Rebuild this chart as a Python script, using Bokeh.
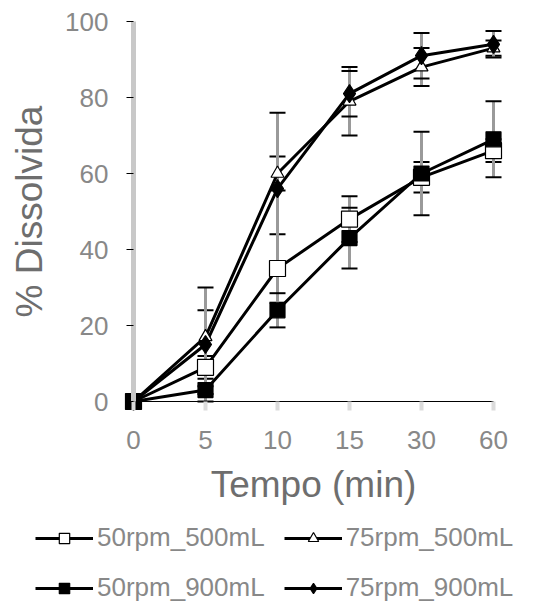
from bokeh.plotting import figure
from bokeh.models import (LinearAxis, FixedTicker, Range1d, ColumnDataSource,
                          Whisker, TeeHead, Legend, LegendItem)
from bokeh.embed import file_html
from bokeh.resources import INLINE

# ---------------- data ----------------
time_labels = ["0", "5", "10", "15", "30", "60"]
y_ticks = [0, 20, 40, 60, 80, 100]

names = ["50rpm_500mL", "75rpm_500mL", "50rpm_900mL", "75rpm_900mL"]

mean_50_500 = [0, 9, 35, 48, 59, 66]
err_50_500 = [0, 3, 9, 6, 4, 3]

mean_75_500 = [0, 17, 60, 79, 88, 93]
err_75_500 = [0, 7, 4.5, 9, 5, 2]

mean_50_900 = [0, 3, 24, 43, 60, 69]
err_50_900 = [0, 1, 4.5, 8, 11, 10]

mean_75_900 = [0, 15, 56, 81, 91, 94]
err_75_900 = [0, 15, 20, 6, 6, 3.5]

means = [mean_50_500, mean_75_500, mean_50_900, mean_75_900]
errs = [err_50_500, err_75_500, err_50_900, err_75_900]

markers = ["square", "triangle", "square", "diamond"]
fills = ["white", "white", "black", "black"]
sizes = [16, 13, 15, 18]

xpos = list(range(len(time_labels)))

FONT = "Liberation Sans"
TICK_COLOR = "#888888"
TITLE_COLOR = "#6e6e6e"

W, H = 540, 606
PX_X = 72.0   # pixels per category step
PX_Y = 3.8    # pixels per percent
X0, Y0 = 133.0, 401.0  # pixel position of the origin

p = figure(width=W, height=H, output_backend="svg", toolbar_location=None,
           x_axis_type=None, y_axis_type=None,
           x_range=Range1d(-X0 / PX_X, (W - X0) / PX_X),
           y_range=Range1d(-(H - Y0) / PX_Y, Y0 / PX_Y),
           min_border=0)
p.outline_line_color = None
p.xgrid.visible = False
p.ygrid.visible = False
p.background_fill_color = "white"
p.border_fill_color = "white"

# y axis
yaxis = LinearAxis(fixed_location=0, bounds=(y_ticks[0], y_ticks[-1]),
                   ticker=FixedTicker(ticks=y_ticks))
yaxis.axis_line_color = "#c8c8c8"
yaxis.axis_line_width = 5
yaxis.major_tick_line_color = "black"
yaxis.major_tick_line_width = 1
yaxis.major_tick_out = 7
yaxis.major_tick_in = 0
yaxis.minor_tick_line_color = None
yaxis.major_label_standoff = 18
yaxis.major_label_text_font = FONT
yaxis.major_label_text_font_size = "26px"
yaxis.major_label_text_color = TICK_COLOR
yaxis.axis_label = "% Dissolvida"
yaxis.axis_label_text_font = FONT
yaxis.axis_label_text_font_size = "37px"
yaxis.axis_label_text_font_style = "normal"
yaxis.axis_label_text_color = TITLE_COLOR
yaxis.axis_label_standoff = 12
p.add_layout(yaxis, "left")

# x axis
xaxis = LinearAxis(fixed_location=0, bounds=(xpos[0], xpos[-1]),
                   ticker=FixedTicker(ticks=xpos))
xaxis.major_label_overrides = {i: lab for i, lab in zip(xpos, time_labels)}
xaxis.axis_line_color = "black"
xaxis.axis_line_width = 1
xaxis.major_tick_line_color = "#dcdcdc"
xaxis.major_tick_line_width = 4
xaxis.major_tick_out = 9
xaxis.major_tick_in = 0
xaxis.minor_tick_line_color = None
xaxis.major_label_standoff = 20
xaxis.major_label_text_font = FONT
xaxis.major_label_text_font_size = "26px"
xaxis.major_label_text_color = TICK_COLOR
xaxis.axis_label = "Tempo (min)"
xaxis.axis_label_text_font = FONT
xaxis.axis_label_text_font_size = "37px"
xaxis.axis_label_text_font_style = "normal"
xaxis.axis_label_text_color = TITLE_COLOR
xaxis.axis_label_standoff = 12
p.add_layout(xaxis, "below")

# error bars
for m, e in zip(means, errs):
    src = ColumnDataSource(dict(x=xpos,
                                upper=[a + b for a, b in zip(m, e)],
                                lower=[a - b for a, b in zip(m, e)]))
    w = Whisker(source=src, base="x", upper="upper", lower="lower",
                line_color="#9a9a9a", line_width=3,
                upper_head=TeeHead(size=16, line_color="black", line_width=2),
                lower_head=TeeHead(size=16, line_color="black", line_width=2))
    p.add_layout(w)

line_rs = []
for m in means:
    line_rs.append(p.line(xpos, m, line_color="black", line_width=3))

scat_rs = []
for m, mk, fc, sz in zip(means, markers, fills, sizes):
    scat_rs.append(p.scatter(xpos, m, marker=mk, size=sz, fill_color=fc,
                             line_color="black", line_width=1.2))

order = [0, 2, 1, 3]
items = [LegendItem(label=names[i], renderers=[line_rs[i], scat_rs[i]]) for i in order]
legend = Legend(items=items, location=(35, 3), ncols=2,
                orientation="vertical",
                glyph_width=58, glyph_height=26, label_height=26,
                label_standoff=4, spacing=19, padding=0, margin=0,
                label_text_font=FONT, label_text_font_size="26px",
                label_text_color=TICK_COLOR,
                border_line_color=None, background_fill_alpha=0)
p.add_layout(legend, "center")

open("out.html", "w").write(file_html(p, INLINE))
